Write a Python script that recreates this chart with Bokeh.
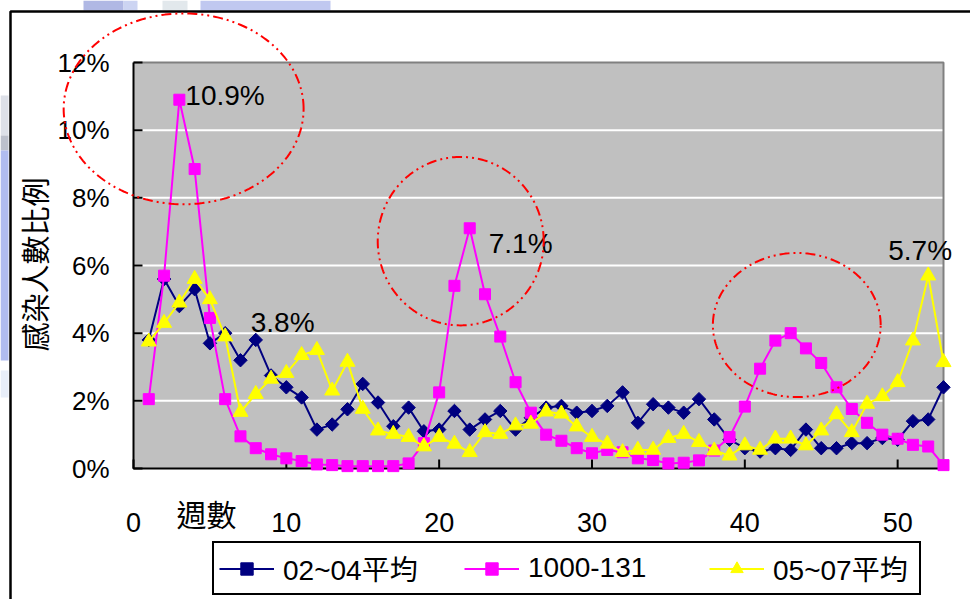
import numpy as np
from bokeh.plotting import figure
from bokeh.models import Range1d, Legend, LegendItem, PolyAnnotation, BoxAnnotation
from bokeh.core.properties import value
from bokeh.embed import file_html
from bokeh.resources import INLINE

# ---------------- data ----------------
weeks = list(range(1, 54))
avg_02_04 = [3.8, 5.6, 4.8, 5.3, 3.7, 4.0, 3.2, 3.8, 2.75, 2.4,
             2.1, 1.15, 1.3, 1.75, 2.5, 1.95, 1.25, 1.8, 1.1, 1.15,
             1.7, 1.15, 1.45, 1.7, 1.15, 1.5, 1.8, 1.85, 1.65, 1.7,
             1.85, 2.25, 1.35, 1.9, 1.8, 1.65, 2.05, 1.45, 0.85, 0.6,
             0.5, 0.6, 0.55, 1.15, 0.6, 0.6, 0.75, 0.75, 0.9, 0.85,
             1.4, 1.45, 2.4]
s_1000_131 = [2.05, 5.7, 10.9, 8.85, 4.45, 2.05, 0.95, 0.6, 0.42, 0.3,
              0.22, 0.12, 0.1, 0.07, 0.07, 0.07, 0.07, 0.15, 0.75, 2.25,
              5.4, 7.1, 5.15, 3.9, 2.55, 1.65, 1.0, 0.82, 0.6, 0.45,
              0.55, 0.48, 0.3, 0.25, 0.15, 0.17, 0.24, 0.53, 0.93, 1.83,
              2.95, 3.78, 4.0, 3.55, 3.12, 2.4, 1.76, 1.35, 1.0, 0.88,
              0.7, 0.65, 0.1]
avg_05_07 = [3.75, 4.3, 4.9, 5.6, 5.0, 3.9, 1.67, 2.2, 2.65, 2.82,
             3.35, 3.5, 2.3, 3.15, 1.76, 1.12, 1.02, 0.93, 0.65, 0.93,
             0.73, 0.48, 1.07, 1.02, 1.27, 1.32, 1.68, 1.62, 1.24, 0.93,
             0.73, 0.48, 0.55, 0.55, 0.9, 1.02, 0.78, 0.53, 0.38, 0.68,
             0.55, 0.88, 0.88, 0.68, 1.12, 1.6, 1.07, 1.91, 2.13, 2.55,
             3.78, 5.7, 3.14]
series_names = ["02~04平均", "1000-131", "05~07平均"]

x_ticks = [0, 10, 20, 30, 40, 50]
x_tick_labels = ["0", "10", "20", "30", "40", "50"]
y_ticks = [0, 2, 4, 6, 8, 10, 12]
y_tick_labels = ["0%", "2%", "4%", "6%", "8%", "10%", "12%"]
x_title = "週數"
y_title = "感染人數比例"

# annotated peaks: (series index, week)
peak_series = [1, 0, 1, 2]
peak_weeks = [3, 8, 22, 52]

# highlight ellipses (data units)
ell_cx = [3.28, 21.41, 43.4]
ell_cy = [10.63, 6.72, 4.24]
ell_rx = [7.85, 5.43, 5.49]
ell_ry = [2.82, 2.49, 2.13]

# ---------------- layout (pixels) ----------------
W, H = 970, 599
PL, PR, PT, PB = 133, 943, 62, 468          # plot-area box on the canvas
X_MIN, X_MAX, Y_MIN, Y_MAX = 0, 53, 0, 12   # axis limits
SX = (PR - PL) / (X_MAX - X_MIN)
SY = (PB - PT) / (Y_MAX - Y_MIN)


def dx(px):
    return X_MIN + (px - PL) / SX


def dy(py):
    return Y_MIN + (PB - py) / SY


LATIN = value("'Liberation Sans', Arial, sans-serif")
CJK = value("'Noto Sans CJK TC', sans-serif")
MIXED = "'Liberation Sans', 'Noto Sans CJK TC', sans-serif"

p = figure(width=W, height=H, output_backend="svg", toolbar_location=None,
           x_range=Range1d(dx(0), dx(W)), y_range=Range1d(dy(H), dy(0)),
           x_axis_location=None, y_axis_location=None, min_border=0)
p.outline_line_color = None
p.background_fill_color = "white"
p.border_fill_color = "white"
for g in p.grid:
    g.visible = False

# background artefacts of the source picture and its outer frame
patches = [
    (83, 123, 0, 10, "#b0b8e4"), (123, 137, 0, 10, "#ccd4f2"),
    (162, 187, 0, 10, "#e2e8ec"), (200, 330, 0, 10, "#c0c8f0"),
    (0, 8, 95, 135, "#dde0e8"), (0, 8, 135, 150, "#bcc0cc"),
    (0, 8, 150, 360, "#b0bcf0"), (0, 8, 370, 397, "#e8eef9"),
]
p.quad(left=[dx(a[0]) for a in patches], right=[dx(a[1]) for a in patches],
       top=[dy(a[2]) for a in patches], bottom=[dy(a[3]) for a in patches],
       fill_color=[a[4] for a in patches], line_color=None)
p.add_layout(BoxAnnotation(left=dx(10), right=dx(1000), top=dy(11), bottom=dy(700),
                           fill_color=None, fill_alpha=0, line_color="black",
                           line_alpha=1, line_width=2.5))

# plot area
p.quad(left=[X_MIN], right=[X_MAX], bottom=[Y_MIN], top=[Y_MAX],
       fill_color="#c0c0c0", line_color=None)
inner = y_ticks[1:-1]
p.segment(x0=[X_MIN] * len(inner), x1=[X_MAX] * len(inner), y0=inner, y1=inner,
          line_color="white", line_width=2)
p.line([X_MIN, X_MAX, X_MAX], [Y_MAX, Y_MAX, Y_MIN], line_color="#808080", line_width=2)

# axes
TICK = 9
p.line([X_MIN, X_MIN, X_MAX], [Y_MAX, Y_MIN, Y_MIN], line_color="black", line_width=2)
p.segment(x0=[X_MIN] * len(y_ticks), x1=[X_MIN + TICK / SX] * len(y_ticks),
          y0=y_ticks, y1=y_ticks, line_color="black", line_width=2)
p.segment(x0=x_ticks, x1=x_ticks, y0=[Y_MIN] * len(x_ticks),
          y1=[Y_MIN + TICK / SY] * len(x_ticks), line_color="black", line_width=2)
p.text(x=[X_MIN] * len(y_ticks), y=y_ticks, text=y_tick_labels, x_offset=-24,
       text_align="right", text_baseline="middle", text_font=LATIN,
       text_font_size="26px", text_color="black")
p.text(x=x_ticks, y=[Y_MIN] * len(x_ticks), text=x_tick_labels, y_offset=54,
       text_align="center", text_baseline="middle", text_font=LATIN,
       text_font_size="27px", text_color="black")
p.text(x=[dx(33)], y=[dy(264)], text=[y_title], angle=np.pi / 2,
       text_align="center", text_baseline="middle", text_font=CJK,
       text_font_size="29px", text_color="black")
p.text(x=[X_MIN], y=[Y_MIN], text=[x_title], x_offset=73, y_offset=44,
       text_align="center", text_baseline="middle", text_font=CJK,
       text_font_size="30px", text_color="black")

# series
colors = ["#000080", "#ff00ff", "#ffff00"]
data = [avg_02_04, s_1000_131, avg_05_07]
items = []
for i, (vals, col, name) in enumerate(zip(data, colors, series_names)):
    lr = p.line(weeks, vals, line_color=col, line_width=2)
    if i == 0:
        sr = p.scatter(weeks, vals, marker="square", angle=np.pi / 4, size=9.5,
                       fill_color=col, line_color=col)
    elif i == 1:
        sr = p.scatter(weeks, vals, marker="square", size=11,
                       fill_color=col, line_color=col)
    else:
        sr = p.scatter(weeks, vals, marker="triangle", size=15,
                       fill_color=col, line_color=col)
    items.append(LegendItem(label=name, renderers=[lr, sr]))

# peak value labels
offsets = [(6, -4), (-5, -17), (19, 15), (-40, -25)]
lx, ly, lt, ox, oy = [], [], [], [], []
for si, wk, (ddx, ddy) in zip(peak_series, peak_weeks, offsets):
    v = data[si][wk - 1]
    lx.append(wk)
    ly.append(v)
    lt.append(f"{v:.1f}%")
    ox.append(ddx)
    oy.append(ddy)
p.text(x=lx, y=ly, text=lt, x_offset=ox, y_offset=oy, text_align="left",
       text_baseline="alphabetic", text_font=LATIN, text_font_size="28px",
       text_color="black")

# dash-dot highlight ellipses
t = np.linspace(0, 2 * np.pi, 241)
for cx, cy, rx, ry in zip(ell_cx, ell_cy, ell_rx, ell_ry):
    p.add_layout(PolyAnnotation(xs=list(cx + rx * np.cos(t)), ys=list(cy + ry * np.sin(t)),
                                fill_color=None, fill_alpha=0, line_color="red",
                                line_alpha=1, line_width=2, line_dash="10 4 2 4 2 4"))

legend = Legend(items=items, orientation="horizontal", location=(212, H - 595),
                glyph_width=55, glyph_height=31, label_height=31, label_width=141,
                label_standoff=9, spacing=40, padding=5, margin=0,
                border_line_color="black", border_line_width=2, border_line_alpha=1,
                background_fill_color="white", background_fill_alpha=1,
                label_text_font=MIXED, label_text_font_size="28px",
                label_text_color="black")
p.add_layout(legend)

open("out.html", "w").write(file_html(p, INLINE))
